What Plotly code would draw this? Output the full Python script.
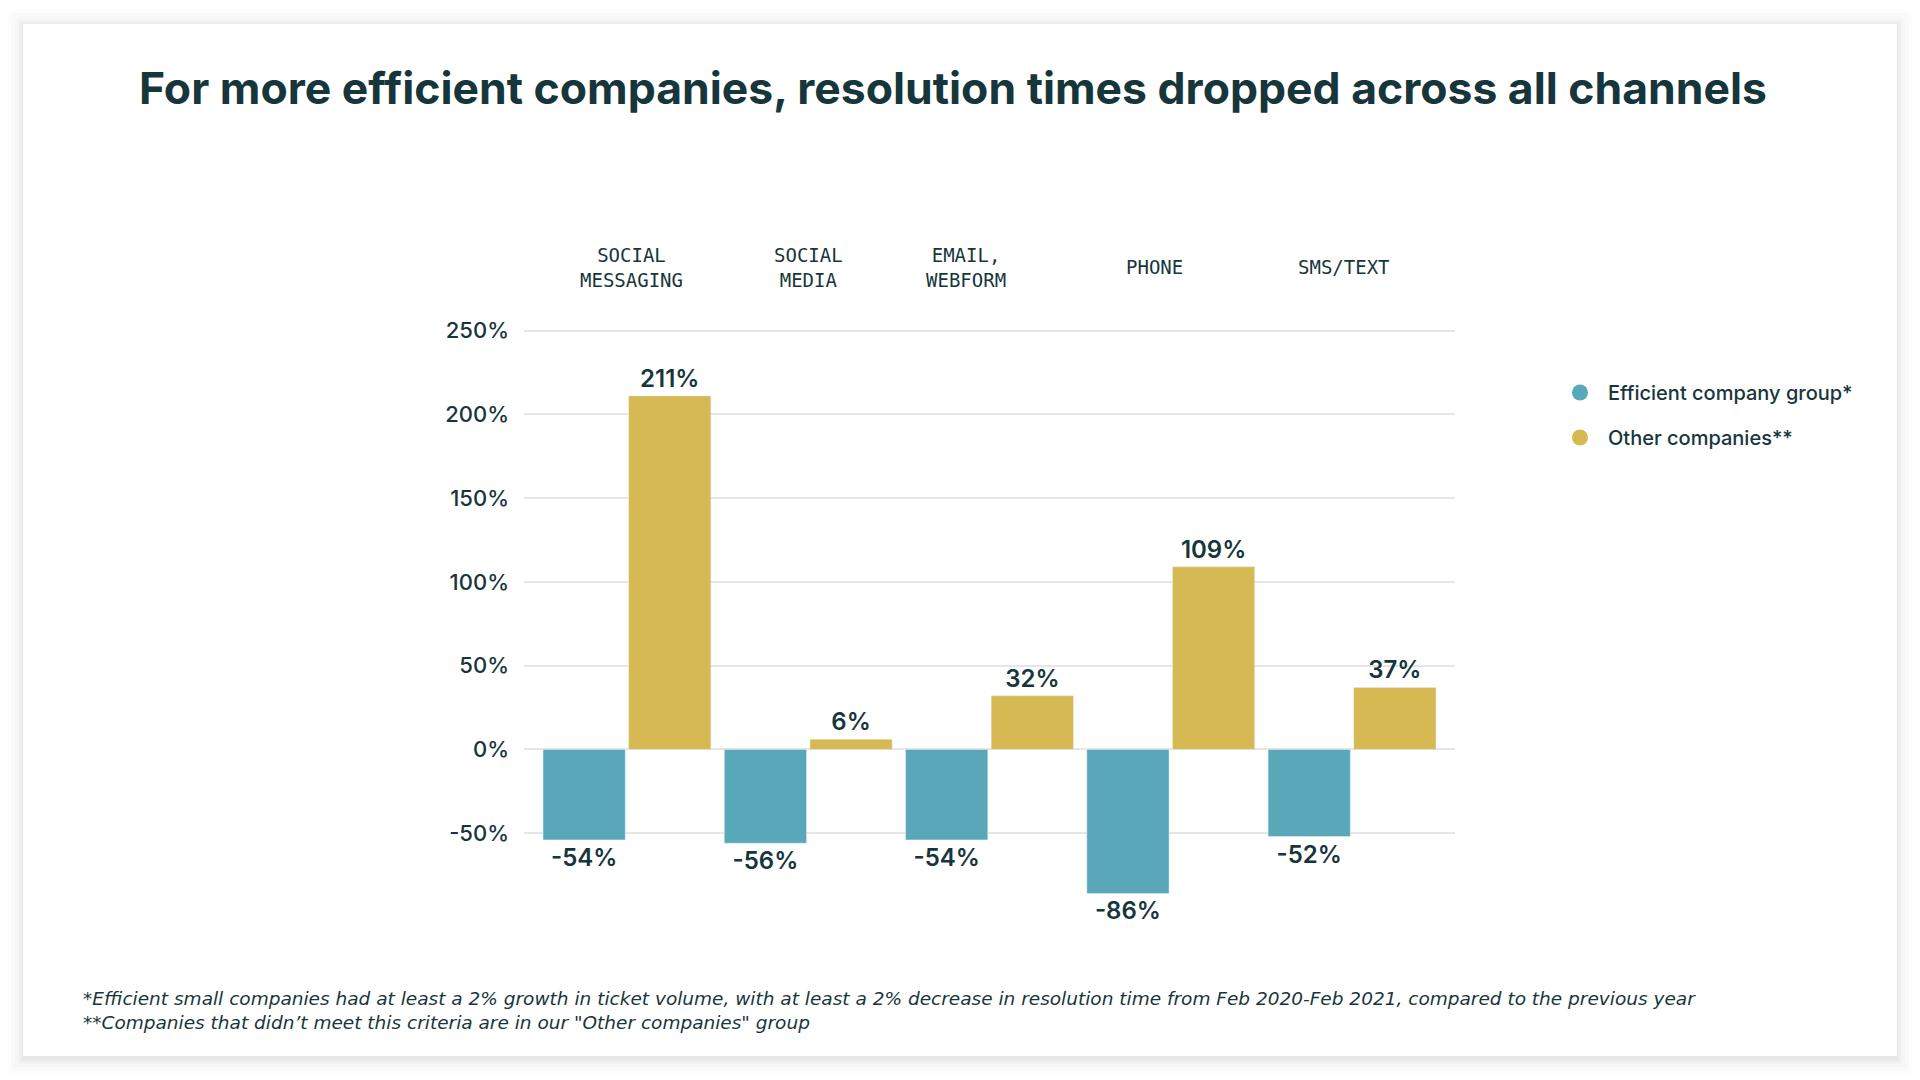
import plotly.graph_objects as go

categories = ["SOCIAL<br>MESSAGING", "SOCIAL<br>MEDIA", "EMAIL,<br>WEBFORM", "PHONE", "SMS/TEXT"]
efficient = [-54, -56, -54, -86, -52]
other = [211, 6, 32, 109, 37]
series_names = ["Efficient company group*", "Other companies**"]
ytick_vals = [-50, 0, 50, 100, 150, 200, 250]
ytick_text = ["-50%", "0%", "50%", "100%", "150%", "200%", "250%"]

BLUE = "#58a8ba"
GOLD = "#d6b952"
INK = "#17363c"
W, H = 1920, 1080

def px(x):
    return x / W

def py(y):
    return 1 - y / H

cat_ids = list(range(len(categories)))
label_nudge = [5, 0, -24, -16, -8]  # header label offsets (px) as in the original layout

fig = go.Figure()
fig.add_trace(go.Bar(
    x=cat_ids, y=efficient, name=series_names[0], marker_color=BLUE,
    text=[f"{v}%" for v in efficient], textposition="outside", cliponaxis=False,
    textfont=dict(family="Inter", size=24, color=INK, weight=600),
    showlegend=False,
))
fig.add_trace(go.Bar(
    x=cat_ids, y=other, name=series_names[1], marker_color=GOLD,
    text=[f"{v}%" for v in other], textposition="outside", cliponaxis=False,
    textfont=dict(family="Inter", size=24, color=INK, weight=600),
    showlegend=False,
))
# legend entries with round markers
for i, (nm, col) in enumerate(zip(series_names, [BLUE, GOLD])):
    fig.add_trace(go.Scatter(
        x=[None], y=[None], mode="markers", name=nm, legendgroup=f"g{i}",
        marker=dict(color=col, size=26, symbol="circle"),
    ))

# category labels above the plot
for i, c in enumerate(categories):
    fig.add_annotation(
        x=i, xref="x", y=py(267), yref="paper", text=c, showarrow=False,
        yanchor="middle", xanchor="center", align="center", xshift=label_nudge[i],
        font=dict(family="DejaVu Sans Mono", size=19, color=INK),
    )

# card with soft shadow
shapes = []
for k, op in [(16, 0.008), (12, 0.01), (8, 0.013), (5, 0.016), (3, 0.02), (1, 0.025)]:
    shapes.append(dict(
        type="rect", xref="paper", yref="paper",
        x0=px(23 - k), x1=px(1897 + k), y0=py(1056 + k + 3), y1=py(24 - k + 1),
        fillcolor=f"rgba(0,0,0,{op})", line=dict(width=0), layer="below",
    ))
shapes.append(dict(
    type="rect", xref="paper", yref="paper",
    x0=px(23), x1=px(1897), y0=py(1056), y1=py(24),
    fillcolor="white", line=dict(width=0), layer="below",
))

fig.add_annotation(
    x=px(81), y=py(1010), xref="paper", yref="paper", xanchor="left", yanchor="middle",
    align="left", showarrow=False,
    text=("<i>*Efficient small companies had at least a 2% growth in ticket volume, with at least a 2% decrease in resolution time from Feb 2020-Feb 2021, compared to the previous year"
          "<br>**Companies that didn\u2019t meet this criteria are in our \"Other companies\" group</i>"),
    font=dict(family="DejaVu Sans", size=18.5, color=INK, weight=200),
)

fig.update_layout(
    width=W, height=H,
    margin=dict(l=0, r=0, t=0, b=0),
    paper_bgcolor="white", plot_bgcolor="rgba(0,0,0,0)",
    shapes=shapes,
    title=dict(
        text="<b>For more efficient companies, resolution times dropped across all channels</b>",
        x=px(953), y=py(88), xanchor="center", yanchor="middle", xref="paper", yref="paper",
        font=dict(family="Inter", size=44.5, color=INK, weight=800),
    ),
    barmode="group", bargap=0.055, bargroupgap=0.04,
    xaxis=dict(
        domain=[px(524), px(1455)], range=[-0.568, 4.568],
        showticklabels=False, showgrid=False, zeroline=False, showline=False,
        tickmode="array", tickvals=cat_ids,
    ),
    yaxis=dict(
        domain=[py(933.7), py(313.8)], range=[-110, 260],
        tickmode="array", tickvals=ytick_vals, ticktext=ytick_text,
        showgrid=True, gridcolor="#e6e6e6", gridwidth=1.5,
        zeroline=False, showline=False, ticks="",
        ticklabelstandoff=14,
        tickfont=dict(family="Inter", size=22, color=INK, weight=500),
    ),
    legend=dict(
        x=px(1552), y=py(373), xanchor="left", yanchor="top",
        font=dict(family="Inter", size=20, color=INK, weight=500),
        itemsizing="trace", itemwidth=46, tracegroupgap=16, bgcolor="rgba(0,0,0,0)",
    ),
    showlegend=True,
)

fig.write_html("out.html", config={"displayModeBar": False},
               post_script="document.body.style.margin='0';")
